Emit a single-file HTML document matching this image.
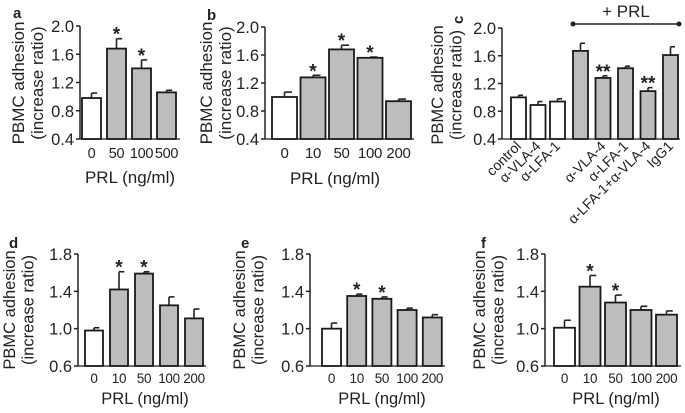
<!DOCTYPE html>
<html><head><meta charset="utf-8"><style>
body{margin:0;background:#fff}
svg{display:block;font-family:"Liberation Sans",sans-serif}
</style></head><body>
<svg id="fig" width="685" height="413" viewBox="0 0 685 413"></svg>
<script>
const catsA=["0","50","100","500"], valsA=[0.98,1.68,1.40,1.06], errA=[0.07,0.14,0.12,0.03], starA=["","*","*",""];
const catsB=["0","10","50","100","200"], valsB=[1.00,1.28,1.68,1.56,0.94], errB=[0.07,0.03,0.06,0.01,0.03], starB=["","*","*","*",""];
const valsC=[1.00,0.89,0.94,1.67,1.28,1.42,1.09,1.61], errC=[0.03,0.05,0.04,0.11,0.03,0.03,0.05,0.12], starC=["","","","","**","","**",""];
const labelsC=["control","α-VLA-4","α-LFA-1","","α-VLA-4","α-LFA-1","α-LFA-1+α-VLA-4","IgG1"];
const catsD=["0","10","50","100","200"], valsD=[0.98,1.42,1.59,1.25,1.11], errD=[0.03,0.19,0.02,0.09,0.10], starD=["","*","*","",""];
const catsE=["0","10","50","100","200"], valsE=[1.00,1.35,1.32,1.20,1.12], errE=[0.06,0.02,0.02,0.02,0.03], starE=["","*","*","",""];
const catsF=["0","10","50","100","200"], valsF=[1.01,1.45,1.28,1.20,1.15], errF=[0.08,0.12,0.08,0.04,0.04], starF=["","*","*","",""];
const ticksTop=["0.4","0.8","1.2","1.6","2.0"], ticksBot=["0.6","1.0","1.4","1.8"];

const svg=document.getElementById('fig');
const NS="http://www.w3.org/2000/svg";
function mk(tag,at,parent){const e=document.createElementNS(NS,tag);for(const k in at)e.setAttribute(k,at[k]);(parent||svg).appendChild(e);return e;}
function txt(s,at,parent){const e=mk('text',at,parent);e.textContent=s;return e;}

function panel(p){
  const g=mk('g',{});
  
  
  const y=v=>p.yBot-(v-p.min)/(p.max-p.min)*(p.yBot-p.yTop);
  p.vals.forEach((v,i)=>{
    const x0=p.xs(i), w=p.bw;
    const white=p.white(i);
    const cx=x0+w/2;
    const el=mk('line',{x1:cx,x2:cx,y1:y(v),y2:y(v+p.err[i]),stroke:'#222','stroke-width':1.6},g);
    
    
    const cap=mk('line',{x1:cx,x2:cx+w*0.3,y1:y(v+p.err[i]),y2:y(v+p.err[i]),stroke:'#222','stroke-width':1.6},g);
    
    
    const r=mk('rect',{x:x0,y:y(v),width:w,height:p.yBot-y(v),fill:white?'#fff':'#bdbdbd',stroke:'#1a1a1a','stroke-width':1.8},g);
    
    
    if(p.star[i]){const s=txt(p.star[i],{x:cx,y:y(v+p.err[i])+2,'font-size':19,'font-weight':'bold','text-anchor':'middle',fill:'#222'},g);
      
      }
    if(p.cats){const t=txt(p.cats[i],{x:cx,y:p.yBot+p.catDy,'font-size':p.catFs,'text-anchor':'middle',fill:'#222','letter-spacing':-0.3},g);
      
      }
  });
  const ax=mk('line',{x1:p.ax,x2:p.ax,y1:p.yTop,y2:p.yBot,stroke:'#222','stroke-width':1.5},g);
  
  
  p.ticks.forEach(t=>{
    const v=parseFloat(t);
    mk('line',{x1:p.ax-4,x2:p.ax,y1:y(v),y2:y(v),stroke:'#222','stroke-width':1.5},g);
    const l=txt(t,{x:p.ax-6,y:y(v)+6,'font-size':16.5,'text-anchor':'end',fill:'#222'},g);
    
    
  });
  mk('line',{x1:p.ax,x2:p.xEnd,y1:p.yBot,y2:p.yBot,stroke:'#222','stroke-width':1.2},g);
  const ty=mk('text',{transform:`translate(${p.tx},${p.ty}) rotate(-90)`,'font-size':p.tfs||17,'text-anchor':'middle',fill:'#222'},g);
  
  
  const t1=mk('tspan',{x:0,y:0},ty);t1.textContent='PBMC adhesion';
  const t2=mk('tspan',{x:0,y:(p.tfs||17)+2},ty);t2.textContent='(increase ratio)';
  if(p.xt){const xt=txt('PRL (ng/ml)',{x:p.xt[0],y:p.xt[1],'font-size':p.xfs||17,'text-anchor':'middle',fill:'#222'},g);
    
    }
  if(p.id){const lb=txt(p.id,{x:p.lbl[0],y:p.lbl[1],'font-size':15,'font-weight':'bold',fill:'#222'},g);
  
  }
  return {g,y};
}

panel({id:'a',vals:valsA,err:errA,star:starA,cats:catsA,min:0.4,max:2.0,yTop:26,yBot:139,ax:80,xEnd:180,
  xs:i=>82+i*25,bw:19,white:i=>i===0,ticks:ticksTop,tx:24,ty:83,xt:[130,183],lbl:[13,18],catFs:14.5,catDy:19});
panel({id:'b',vals:valsB,err:errB,star:starB,cats:catsB,min:0.4,max:2.0,yTop:27,yBot:139,ax:265,xEnd:414,
  xs:i=>272+i*28.5,bw:25,white:i=>i===0,ticks:ticksTop,tx:212,ty:83,xt:[335,184],lbl:[207,20],catFs:15,catDy:19});
panel({id:'',vals:valsC,err:errC,star:starC,cats:null,min:0.4,max:2.0,yTop:28,yBot:139,ax:502,xEnd:680,
  xs:i=>i<3?511+i*19.5:573+(i-3)*22.5,bw:15,white:i=>i<3,ticks:ticksTop,tx:443,ty:85,xt:null,lbl:[0,0],tfs:16.5});
const cl=txt('c',{transform:'translate(463,24) rotate(-90)','font-size':15,'font-weight':'bold',fill:'#222'});


labelsC.forEach((s,i)=>{
  if(!s)return;
  const x0=i<3?511+i*19.5:573+(i-3)*22.5;
  const cx=x0+11;
  const t=txt(s,{transform:`translate(${cx},147) rotate(-45)`,'font-size':14,'text-anchor':'end',fill:'#222'});
  
  
});
const prl=mk('line',{x1:573,x2:679,y1:24,y2:24,stroke:'#222','stroke-width':1.5});


mk('circle',{cx:573,cy:24,r:2.5,fill:'#222'});mk('circle',{cx:679,cy:24,r:2.5,fill:'#222'});
const pt=txt('+ PRL',{x:626,y:17,'font-size':17,'text-anchor':'middle',fill:'#222'});



panel({id:'d',vals:valsD,err:errD,star:starD,cats:catsD,min:0.6,max:1.8,yTop:254,yBot:366,ax:78,xEnd:206,
  xs:i=>85+i*25,bw:18,white:i=>i===0,ticks:ticksBot,tx:15,ty:310,xt:[145,404],lbl:[9,248],catFs:13.5,catDy:17,tfs:16.5,xfs:16.5});
panel({id:'e',vals:valsE,err:errE,star:starE,cats:catsE,min:0.6,max:1.8,yTop:254,yBot:366,ax:310,xEnd:445,
  xs:i=>322+i*25.2,bw:19,white:i=>i===0,ticks:ticksBot,tx:245,ty:310,xt:[382,404],lbl:[241,248],catFs:13.5,catDy:17,tfs:16.5,xfs:16.5});
panel({id:'f',vals:valsF,err:errF,star:starF,cats:catsF,min:0.6,max:1.8,yTop:254,yBot:366,ax:545,xEnd:681,
  xs:i=>554+i*25.5,bw:21,white:i=>i===0,ticks:ticksBot,tx:485,ty:310,xt:[616,404],lbl:[481,248],catFs:13.5,catDy:17,tfs:16.5,xfs:16.5});
</script>
</body></html>
